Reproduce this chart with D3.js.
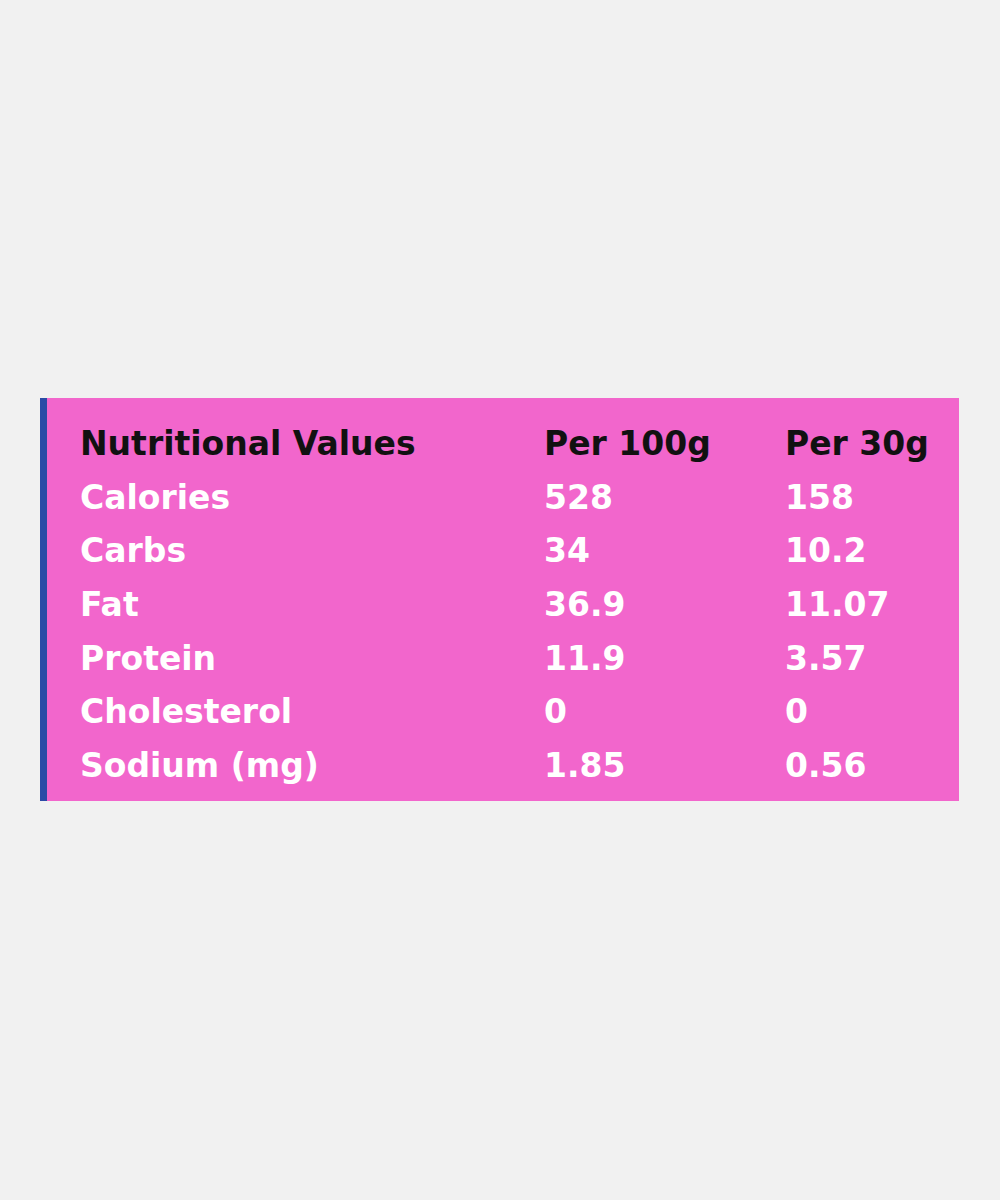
<!DOCTYPE html>
<html><head><meta charset="utf-8">
<script src="https://cdn.jsdelivr.net/npm/d3@7"></script>
<style>body{margin:0;background:#f1f1f1}</style></head>
<body><svg id="c" width="1000" height="1200"></svg>
<script>
const headers = ["Nutritional Values","Per 100g","Per 30g"];
const nutrients = ["Calories","Carbs","Fat","Protein","Cholesterol","Sodium (mg)"];
const per100g = ["528","34","36.9","11.9","0","1.85"];
const per30g = ["158","10.2","11.07","3.57","0","0.56"];

const svg = d3.select("#c");
svg.append("rect").attr("width",1000).attr("height",1200).attr("fill","#f1f1f1");
svg.append("rect").attr("x",40).attr("y",398).attr("width",919).attr("height",403).attr("fill","#f266cc");
svg.append("rect").attr("x",40).attr("y",398).attr("width",7).attr("height",403).attr("fill","#2b4ba6");

const x = d3.scaleOrdinal().domain([0,1,2]).range([80,544,785]);
const y = d3.scaleLinear().domain([0,6]).range([455,777]);
const font = "'DejaVu Sans', sans-serif";
const rows = [headers].concat(nutrients.map((n,i)=>[n,per100g[i],per30g[i]]));
rows.forEach((r,ri)=>{
  r.forEach((t,ci)=>{
    svg.append("text").attr("x",x(ci)).attr("y",y(ri))
      .attr("font-family",font).attr("font-weight","bold").attr("font-size",33)
      .attr("fill", ri===0 ? "#111" : "#fff").text(t);
  });
});
</script></body></html>
